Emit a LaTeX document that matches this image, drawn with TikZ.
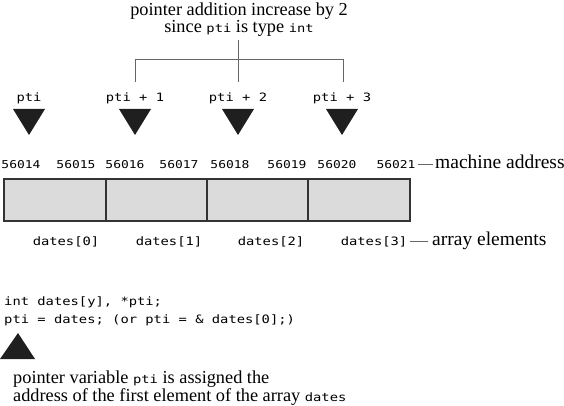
\documentclass[tikz,border=0pt]{standalone}
\usepackage{fontspec}
\setmainfont{Liberation Serif}
\newfontfamily\monofont[FakeStretch=1.2]{DejaVu Sans Mono}
\newcommand{\cw}[1]{{\monofont\fontsize{11.5}{13}\selectfont #1}}
\begin{document}
\begin{tikzpicture}[x=1pt,y=-1pt,
  serif/.style={font=\fontsize{18.3}{22}\selectfont, inner sep=0pt, anchor=base},
  side/.style={font=\fontsize{19.5}{22}\selectfont, inner sep=0pt, anchor=base west},
  code/.style={font=\monofont\fontsize{11.5}{13}\selectfont, inner sep=0pt, anchor=base},
  addr/.style={font=\monofont\fontsize{10.8}{12}\selectfont, inner sep=0pt, anchor=base},
  bracket/.style={draw=black!60, line width=1pt},
  lead/.style={draw=black!60, line width=1pt},
  ptr/.style={fill=black!88},
  cell/.style={draw=black!80, line width=1.6pt, fill=black!14}]
\useasboundingbox (0,0) rectangle (564,406);
% top note
\node[serif] (note1) at (239,16) {pointer addition increase by 2};
\node[serif] (note2) at (239,33) {since \cw{pti} is type \cw{int}};
% pointer labels
\node[code] (p0) at (29,102) {pti};
\node[code] (p1) at (135,102) {pti + 1};
\node[code] (p2) at (238,102) {pti + 2};
\node[code] (p3) at (342,102) {pti + 3};
% bracket
\coordinate (top) at (238,40);
\coordinate (h1) at (135,60);
\coordinate (h3) at (343,60);
\coordinate (b1) at (135,82);
\coordinate (b2) at (238,82);
\coordinate (b3) at (343,82);
\draw[bracket] (b1) -- (h1) -- (h3) -- (b3);
\draw[bracket] (top) -- (b2);
% down triangles
\foreach \x in {29,135,238,342}{
  \fill[ptr] (\x-16,109) -- (\x+16,109) -- (\x,135) -- cycle;
}
% addresses
\node[addr] (a0) at (21,168) {56014};
\node[addr] (a1) at (76,168) {56015};
\node[addr] (a2) at (125,168) {56016};
\node[addr] (a3) at (179,168) {56017};
\node[addr] (a4) at (230,168) {56018};
\node[addr] (a5) at (287,168) {56019};
\node[addr] (a6) at (337,168) {56020};
\node[addr] (a7) at (396,168) {56021};
\node[side] (ma) at (435,168) {machine address};
\draw[lead] ([xshift=2pt]a7.east) -- ([xshift=-2pt]a7.east -| ma.west);
% array cells
\filldraw[cell] (4,179) rectangle (410,221);
\draw[cell] (106,179) -- (106,221);
\draw[cell] (207,179) -- (207,221);
\draw[cell] (308,179) -- (308,221);
% element labels
\node[code] (d0) at (66,245) {dates[0]};
\node[code] (d1) at (169,245) {dates[1]};
\node[code] (d2) at (271,245) {dates[2]};
\node[code] (d3) at (374,245) {dates[3]};
\node[side] (ae) at (432,245) {array elements};
\draw[lead] ([xshift=3pt]d3.east) -- ([xshift=-4pt]d3.east -| ae.west);
% code
\node[code, anchor=base west] (c1) at (4,305) {int dates[y], *pti;};
\node[code, anchor=base west] (c2) at (4,323) {pti = dates; (or pti = \& dates[0];)};
% up triangle
\fill[ptr] (0,359) -- (35,359) -- (18,333) -- cycle;
% explanation
\node[serif, anchor=base west] (e1) at (13,383) {pointer variable \cw{pti} is assigned the};
\node[serif, anchor=base west] (e2) at (13,401) {address of the first element of the array \cw{dates}};
\end{tikzpicture}
\end{document}
